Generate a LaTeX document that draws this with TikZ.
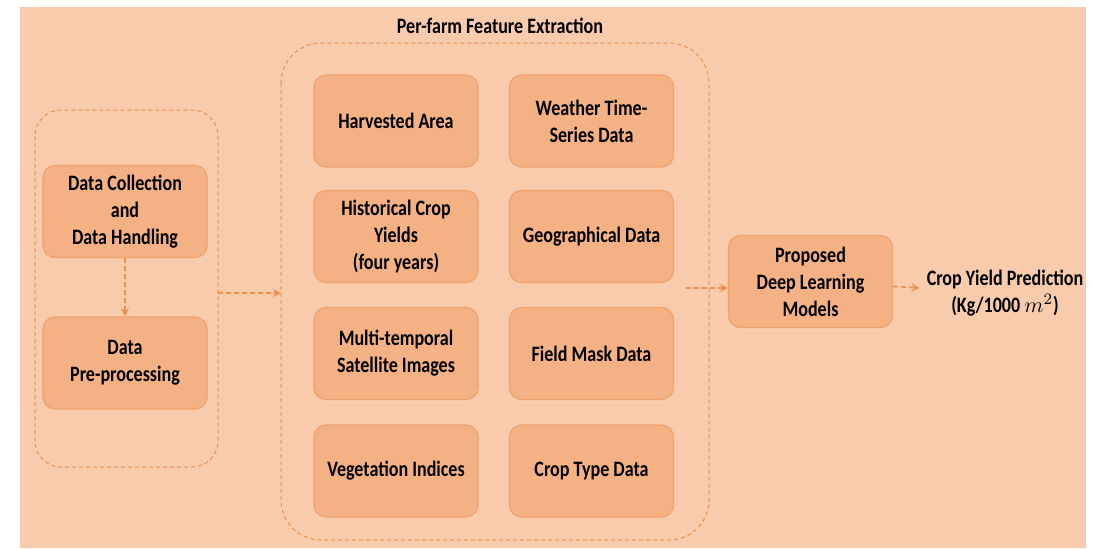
\documentclass[tikz,border=0pt]{standalone}
\usepackage{amsmath}
\usepackage{fontspec}
\setmainfont[FakeStretch=0.82]{Carlito}
\usepackage{tikz}
\usetikzlibrary{positioning}

\definecolor{peach}{HTML}{F8CBAD}
\definecolor{boxfill}{HTML}{F4B183}
\definecolor{boxline}{HTML}{F0A26E}
\definecolor{dashline}{HTML}{EE8F4E}

\tikzset{
  featbox/.style={draw=boxline,fill=boxfill,rounded corners=6pt,line width=0.6pt,
    minimum width=82pt,minimum height=46pt,align=center,
    font=\fontsize{11}{13.5}\selectfont\bfseries},
  groupline/.style={draw=dashline,dash pattern=on 2pt off 1.5pt,line width=0.5pt},
  flow/.style={dashline,dash pattern=on 2.5pt off 1.5pt,line width=0.8pt,->,>=stealth}
}

\begin{document}
\begin{tikzpicture}[x=0.5pt,y=-0.5pt]
				\useasboundingbox (0,0) rectangle (1102,548);
				\fill[peach] (20,7) rectangle (1086,548);
				% linke Gruppe
				\draw[groupline,rounded corners=13pt] (35,110) rectangle (218,467);
				\node[featbox] (collect) at (125,211.5) {Data Collection\\and\\Data Handling};
				\node[featbox] (preproc) at (125,363) {Data\\Pre-processing};
				\draw[flow] (collect) -- (preproc);
				% Merkmale pro Betrieb
				\draw[groupline,rounded corners=20pt] (281,43) rectangle (709,540);
				\node[font=\fontsize{11}{13.5}\selectfont\bfseries] (title) at (500,26) {Per-farm Feature Extraction};
				\node[featbox] (area) at (396,121) {Harvested Area};
				\node[featbox] (weather) at (591.5,121) {Weather Time-\\Series Data};
				\node[featbox] (history) at (396,236.5) {Historical Crop\\Yields\\(four years)};
				\node[featbox] (geo) at (591.5,236.5) {Geographical Data};
				\node[featbox] (sat) at (396,353.5) {Multi-temporal\\Satellite Images};
				\node[featbox] (mask) at (591.5,353.5) {Field Mask Data};
				\node[featbox] (veg) at (396,471) {Vegetation Indices};
				\node[featbox] (croptype) at (591.5,471) {Crop Type Data};
				\coordinate (leftout) at (218,293);
				\coordinate (midin) at (281,293);
				\draw[flow] (leftout) -- (midin);
				% Modell und Ausgabe
				\node[featbox] (model) at (810.5,281.5) {Proposed\\Deep Learning\\Models};
				\coordinate (midout) at (686,288);
				\draw[flow] (midout) -- (model.west |- midout);
				\node[align=center,font=\fontsize{11}{13.5}\selectfont\bfseries] (yield) at (1005,293)
				{Crop Yield Prediction\\(Kg/1000 $m^2$)};
				\draw[flow] (model) -- (yield);
			\end{tikzpicture}
\end{document}
